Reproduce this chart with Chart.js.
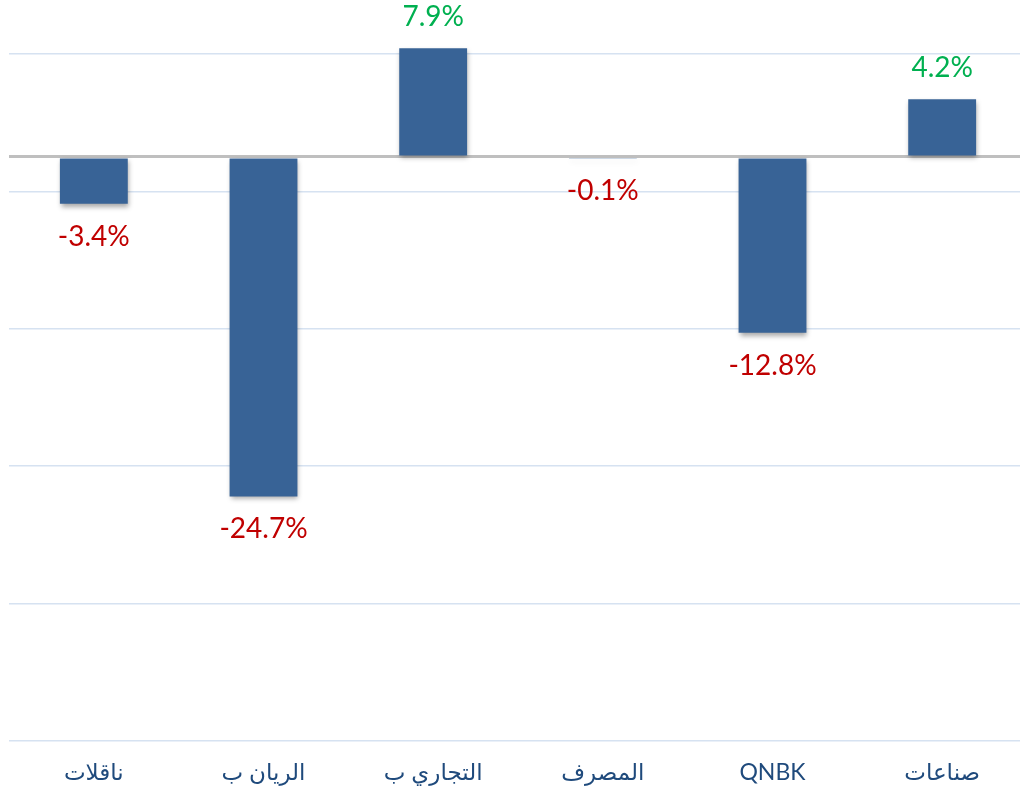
<!DOCTYPE html>
<html>
<head>
<meta charset="utf-8">
<script src="https://cdn.jsdelivr.net/npm/chart.js@4/dist/chart.umd.min.js"></script>
<style>
  html, body { margin: 0; padding: 0; background: #ffffff; overflow: hidden; }
  #wrap { width: 1027px; height: 791px; }
</style>
</head>
<body>
<div id="wrap"><canvas id="changechart"></canvas></div>
<script>
// values
const categories = ['ناقلات', 'الريان ب', 'التجاري ب', 'المصرف', 'QNBK', 'صناعات'];
const changes = [-3.4, -24.7, 7.9, -0.1, -12.8, 4.2];
const gridValues = [-42.5, -32.5, -22.5, -12.5, -2.5, 0, 7.5];

const changechart = document.getElementById('changechart');

// shadow under the bars + the % labels above / below them
const barLabels = {
    id: 'barLabels',
    beforeDatasetsDraw(chart) {
        const ctx = chart.ctx;
        ctx.save();
        ctx.shadowColor = 'rgba(0,0,0,0.35)';
        ctx.shadowBlur = 5;
        ctx.shadowOffsetX = 1;
        ctx.shadowOffsetY = 3;
    },
    afterDatasetsDraw(chart) {
        const ctx = chart.ctx;
        ctx.restore();
        const meta = chart.getDatasetMeta(0);
        ctx.save();
        ctx.font = '28px Lato, "DejaVu Sans", sans-serif';
        ctx.textAlign = 'center';
        ctx.textBaseline = 'middle';
        meta.data.forEach(function (bar, i) {
            let v = changes[i];
            ctx.fillStyle = v < 0 ? '#c00000' : '#00b050';
            let y = v < 0 ? bar.y + 33 : bar.y - 31;
            ctx.fillText(v.toFixed(1) + '%', bar.x, y);
        });
        ctx.restore();
    }
};

new Chart(changechart, {
    type: 'bar',
    data: {
        labels: categories,
        datasets: [{
            data: changes,
            backgroundColor: '#386396',
            borderWidth: 0,
            barPercentage: 0.4,
            categoryPercentage: 1.0
        }]
    },
    options: {
        responsive: true,
        maintainAspectRatio: false,
        animation: false,
        layout: {
            padding: { left: 9, right: 0, top: 19.5, bottom: 0 }
        },
        plugins: {
            legend: { display: false },
            tooltip: { enabled: false }
        },
        scales: {
            x: {
                grid: { display: false },
                border: { display: false },
                afterFit: function (scale) { scale.height = 50; },
                ticks: {
                    color: '#1f4a7c',
                    padding: 10,
                    maxRotation: 0,
                    font: { family: 'Lato, "DejaVu Sans", sans-serif', size: 23 }
                }
            },
            y: {
                min: -42.5,
                max: 10,
                afterBuildTicks: function (scale) {
                    scale.ticks = gridValues.map(v => ({ value: v }));
                },
                border: { display: false },
                grid: {
                    drawTicks: false,
                    color: ctx => ctx.tick && ctx.tick.value === 0 ? '#bfbfbf' : '#d6e2f1',
                    lineWidth: ctx => ctx.tick && ctx.tick.value === 0 ? 3 : 1.5
                },
                ticks: { display: false }
            }
        }
    },
    plugins: [barLabels]
});
</script>
</body>
</html>
